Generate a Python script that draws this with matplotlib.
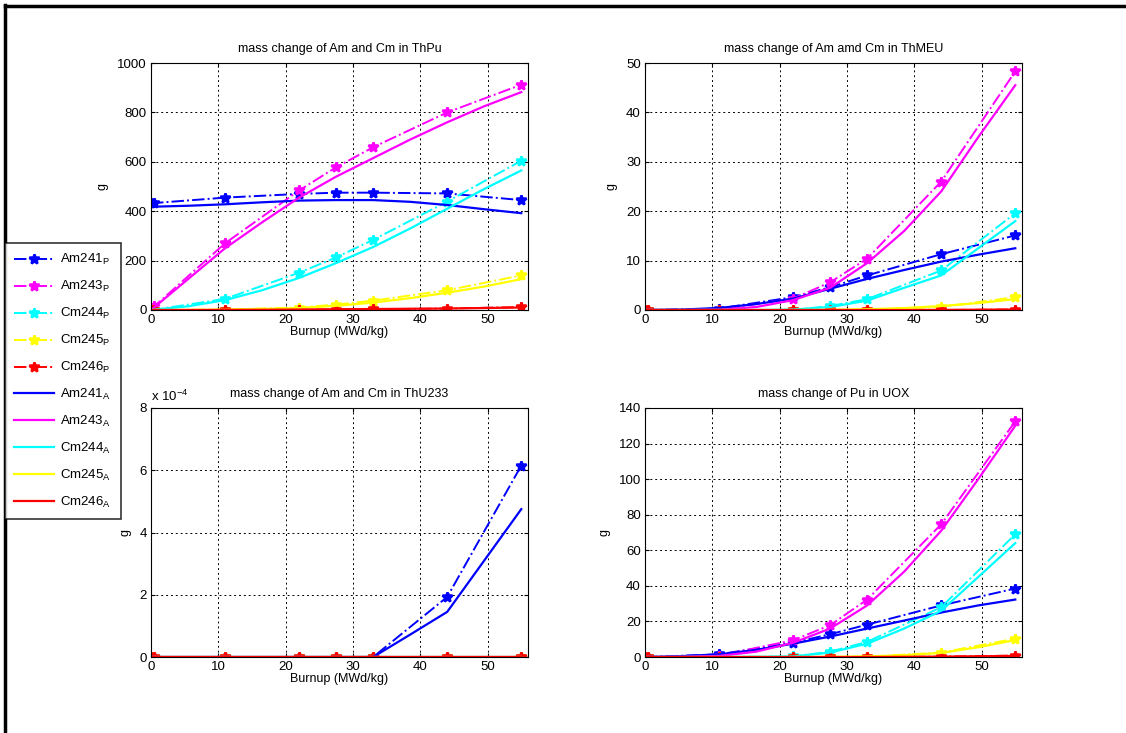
import matplotlib
matplotlib.use('Agg')
import matplotlib.pyplot as plt
from matplotlib.lines import Line2D

plt.rcParams['font.family'] = ['Liberation Sans', 'DejaVu Sans']
plt.rcParams['mathtext.default'] = 'regular'
plt.rcParams['font.size'] = 8

# burnup points (MWd/kg)
x_p = [0, 0.5, 11, 22, 27.5, 33, 44, 55]
x_a = [0, 5.5, 11, 16.5, 22, 27.5, 33, 38.5, 44, 49.5, 55]

nuclides = ['Am241', 'Am243', 'Cm244', 'Cm245', 'Cm246']
colors = ['#0000ff', '#ff00ff', '#00ffff', '#ffff00', '#ff0000']

titles = ['mass change of Am and Cm in ThPu',
          'mass change of Am amd Cm in ThMEU',
          'mass change of Am and Cm in ThU233',
          'mass change of Pu in UOX']

# ThPu
thpu_p = [
    [432, 433, 455, 470, 475, 475, 472, 445],
    [5, 15, 270, 484, 578, 659, 800, 912],
    [0, 1, 45, 151, 213, 284, 439, 604],
    [0, 0, 2, 10, 22, 38, 80, 140],
    [0, 0, 0, 1, 2, 3, 6, 12],
]
thpu_a = [
    [418, 422, 428, 436, 443, 445, 445, 438, 425, 408, 392],
    [0, 125, 250, 355, 455, 540, 615, 690, 760, 825, 882],
    [0, 15, 40, 80, 130, 190, 255, 330, 410, 490, 565],
    [0, 0.3, 1, 4, 8, 17, 30, 48, 70, 95, 125],
    [0, 0, 0.5, 1, 2, 3, 4, 5, 6, 8, 10],
]

# ThMEU
thmeu_p = [
    [0, 0, 0.3, 2.6, 4.6, 7.0, 11.3, 15.1],
    [0, 0, 0.1, 2.3, 5.6, 10.4, 26.0, 48.3],
    [0, 0, 0, 0, 0.8, 2.2, 8.0, 19.6],
    [0, 0, 0, 0, 0, 0.1, 0.6, 2.6],
    [0, 0, 0, 0, 0, 0, 0, 0.1],
]
thmeu_a = [
    [0, 0.1, 0.4, 1.2, 2.3, 4.3, 6.3, 8.1, 9.8, 11.2, 12.5],
    [0, 0, 0.05, 0.6, 2.0, 4.5, 9.5, 16.0, 24.0, 35.0, 45.5],
    [0, 0, 0, 0, 0.1, 0.6, 1.9, 4.5, 7.0, 12.5, 18.0],
    [0, 0, 0, 0, 0, 0.05, 0.15, 0.4, 0.8, 1.4, 2.2],
    [0, 0, 0, 0, 0, 0, 0, 0, 0.02, 0.05, 0.1],
]

# ThU233 (only Am241 builds up)
thu_p = [
    [0, 0, 0, 0, 0, 0, 1.93e-4, 6.15e-4],
    [0, 0, 0, 0, 0, 0, 0, 0],
    [0, 0, 0, 0, 0, 0, 0, 0],
    [0, 0, 0, 0, 0, 0, 0, 0],
    [0, 0, 0, 0, 0, 0, 0, 0],
]
thu_a = [
    [0, 0, 0, 0, 0, 0, 0, 0.72e-4, 1.45e-4, 3.1e-4, 4.75e-4],
    [0, 0, 0, 0, 0, 0, 0, 0, 0, 0, 0],
    [0, 0, 0, 0, 0, 0, 0, 0, 0, 0, 0],
    [0, 0, 0, 0, 0, 0, 0, 0, 0, 0, 0],
    [0, 0, 0, 0, 0, 0, 0, 0, 0, 0, 0],
]

# UOX
uox_p = [
    [0, 0, 1.5, 8, 12.8, 18.2, 29, 38.5],
    [0, 0, 0.8, 9.4, 17.9, 32.3, 74.6, 132.5],
    [0, 0, 0, 0.3, 3, 8.5, 28, 69],
    [0, 0, 0, 0, 0, 0.2, 2.5, 10.3],
    [0, 0, 0, 0, 0, 0, 0.2, 0.8],
]
uox_a = [
    [0, 0.5, 1.5, 4, 7.5, 11.5, 16, 20.5, 25, 29, 32.3],
    [0, 0.1, 0.6, 3, 8, 16, 29, 48, 71, 100, 130],
    [0, 0, 0, 0.1, 0.3, 2.5, 7.5, 16, 26, 45, 64],
    [0, 0, 0, 0, 0, 0.1, 0.3, 1, 2.3, 5.5, 9.5],
    [0, 0, 0, 0, 0, 0, 0, 0.1, 0.2, 0.4, 0.6],
]

p_data = [thpu_p, thmeu_p, thu_p, uox_p]
a_data = [thpu_a, thmeu_a, thu_a, uox_a]
ylims = [(0, 1000), (0, 50), (0, 8e-4), (0, 140)]

fig = plt.figure(figsize=(11.26, 7.33), dpi=100)
# axes boxes in pixels: left, top, right, bottom
boxes = [(151, 63, 528, 310), (645, 63, 1022, 310),
         (151, 408, 528, 657), (645, 408, 1022, 657)]
W, H = 1126, 733

for k in range(4):
    l, t, r, b = boxes[k]
    ax = fig.add_axes([l / W, 1 - b / H, (r - l) / W, (b - t) / H])
    for i in range(5):
        ax.plot(x_p, p_data[k][i], '-.', color=colors[i], lw=1.4,
                marker='*', ms=7.5, mew=1.8, label=nuclides[i] + '$_P$')
    for i in range(5):
        ax.plot(x_a, a_data[k][i], '-', color=colors[i], lw=1.6,
                label=nuclides[i] + '$_A$')
    ax.set_xlim(0, 56)
    ax.set_ylim(*ylims[k])
    ax.set_xticks([0, 10, 20, 30, 40, 50])
    ax.grid(True, color='black', linestyle=(0, (2, 3)), lw=0.7)
    ax.tick_params(direction='in', length=3, top=True, right=True, labelsize=9.5,
                   pad=3)
    ax.set_title(titles[k], fontsize=9, pad=8)
    ax.set_xlabel('Burnup (MWd/kg)', fontsize=9, labelpad=0)
    ax.set_ylabel('g', fontsize=9, labelpad=6)
    for s in ax.spines.values():
        s.set_linewidth(0.8)
    if k == 2:
        ax.set_yticks([0, 2e-4, 4e-4, 6e-4, 8e-4])
        ax.set_yticklabels(['0', '2', '4', '6', '8'])
        ax.text(0, 1.015, 'x 10$^{-4}$', transform=ax.transAxes, fontsize=9.5,
                va='bottom', ha='left')
    if k == 0:
        handles, labels = ax.get_legend_handles_labels()

leg = fig.legend(handles, labels, loc='upper left',
                 bbox_to_anchor=(5 / W, 1 - 243 / H), fontsize=9.5,
                 borderaxespad=0,
                 frameon=True, fancybox=False, edgecolor='black',
                 handlelength=3.0, labelspacing=0.9, borderpad=0.7,
                 handletextpad=0.5)
leg.get_frame().set_linewidth(1.2)

# border lines at top and left of the figure
fig.add_artist(Line2D([5 / W, 5 / W], [0, 1 - 5 / H], color='black', lw=2.5))
fig.add_artist(Line2D([5 / W, 1], [1 - 6 / H, 1 - 6 / H], color='black', lw=2.5))

fig.savefig('out.png', dpi=100)
